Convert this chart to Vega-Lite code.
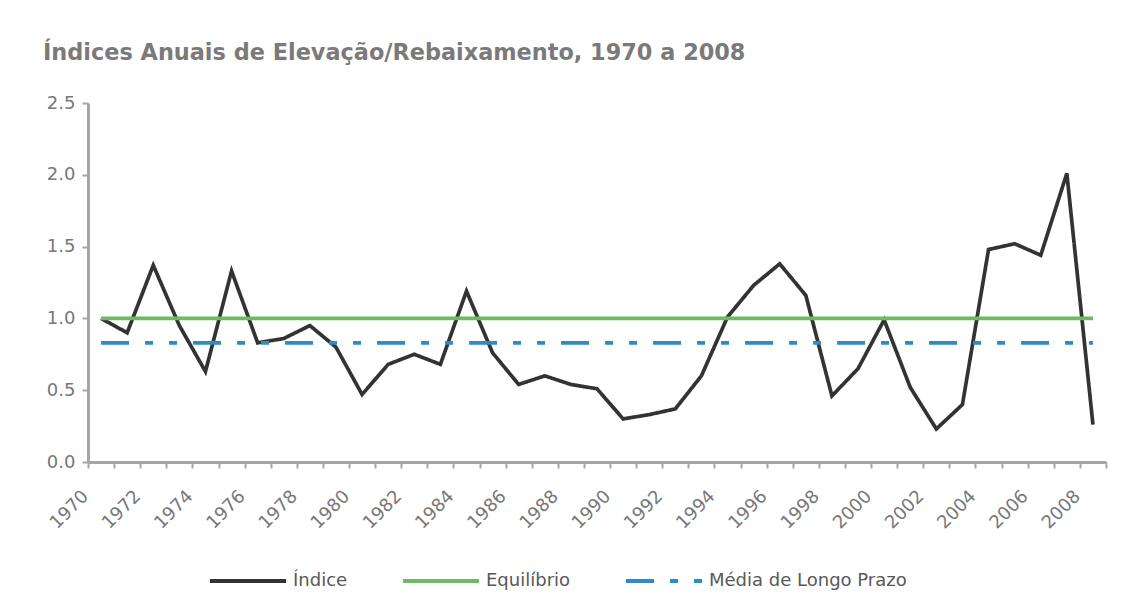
{
  "$schema": "https://vega.github.io/schema/vega-lite/v6.json",
  "autosize": {"type": "none"},
  "width": 1018,
  "height": 359,
  "padding": {"left": 88, "top": 103, "right": 19, "bottom": 148},
  "background": "white",
  "title": {
    "text": "Índices Anuais de Elevação/Rebaixamento, 1970 a 2008",
    "anchor": "start",
    "frame": "group",
    "dx": -45,
    "offset": 30,
    "font": "DejaVu Sans",
    "fontSize": 22.4,
    "fontWeight": "bold",
    "color": "#7A7A7A"
  },
  "config": {
    "view": {"stroke": null},
    "axis": {
      "labelFont": "DejaVu Sans",
      "labelFontSize": 18,
      "labelColor": "#787878",
      "domainColor": "#A6A6A6",
      "domainWidth": 3,
      "tickColor": "#A6A6A6",
      "tickWidth": 2,
      "tickSize": 6,
      "grid": false,
      "title": null
    }
  },
  "data": {
    "values": [
      {"ano": 1970, "serie": "Índice", "valor": 1.00},
      {"ano": 1971, "serie": "Índice", "valor": 0.90},
      {"ano": 1972, "serie": "Índice", "valor": 1.37},
      {"ano": 1973, "serie": "Índice", "valor": 0.95},
      {"ano": 1974, "serie": "Índice", "valor": 0.63},
      {"ano": 1975, "serie": "Índice", "valor": 1.33},
      {"ano": 1976, "serie": "Índice", "valor": 0.83},
      {"ano": 1977, "serie": "Índice", "valor": 0.86},
      {"ano": 1978, "serie": "Índice", "valor": 0.95},
      {"ano": 1979, "serie": "Índice", "valor": 0.80},
      {"ano": 1980, "serie": "Índice", "valor": 0.47},
      {"ano": 1981, "serie": "Índice", "valor": 0.68},
      {"ano": 1982, "serie": "Índice", "valor": 0.75},
      {"ano": 1983, "serie": "Índice", "valor": 0.68},
      {"ano": 1984, "serie": "Índice", "valor": 1.19},
      {"ano": 1985, "serie": "Índice", "valor": 0.76},
      {"ano": 1986, "serie": "Índice", "valor": 0.54},
      {"ano": 1987, "serie": "Índice", "valor": 0.60},
      {"ano": 1988, "serie": "Índice", "valor": 0.54},
      {"ano": 1989, "serie": "Índice", "valor": 0.51},
      {"ano": 1990, "serie": "Índice", "valor": 0.30},
      {"ano": 1991, "serie": "Índice", "valor": 0.33},
      {"ano": 1992, "serie": "Índice", "valor": 0.37},
      {"ano": 1993, "serie": "Índice", "valor": 0.60},
      {"ano": 1994, "serie": "Índice", "valor": 1.01},
      {"ano": 1995, "serie": "Índice", "valor": 1.23},
      {"ano": 1996, "serie": "Índice", "valor": 1.38},
      {"ano": 1997, "serie": "Índice", "valor": 1.16},
      {"ano": 1998, "serie": "Índice", "valor": 0.46},
      {"ano": 1999, "serie": "Índice", "valor": 0.65},
      {"ano": 2000, "serie": "Índice", "valor": 0.99},
      {"ano": 2001, "serie": "Índice", "valor": 0.52},
      {"ano": 2002, "serie": "Índice", "valor": 0.23},
      {"ano": 2003, "serie": "Índice", "valor": 0.40},
      {"ano": 2004, "serie": "Índice", "valor": 1.48},
      {"ano": 2005, "serie": "Índice", "valor": 1.52},
      {"ano": 2006, "serie": "Índice", "valor": 1.44},
      {"ano": 2007, "serie": "Índice", "valor": 2.01},
      {"ano": 2008, "serie": "Índice", "valor": 0.26},
      {"ano": 1970, "serie": "Equilíbrio", "valor": 1.0},
      {"ano": 2008, "serie": "Equilíbrio", "valor": 1.0},
      {"ano": 1970, "serie": "Média de Longo Prazo", "valor": 0.83},
      {"ano": 2008, "serie": "Média de Longo Prazo", "valor": 0.83}
    ]
  },
  "mark": {"type": "line", "strokeWidth": 3.7},
  "encoding": {
    "x": {
      "field": "ano",
      "type": "ordinal",
      "bandPosition": 0.5,
      "scale": {"type": "band", "paddingInner": 0, "paddingOuter": 0},
      "axis": {
        "labelAngle": -45,
        "labelOffset": -22,
        "labelPadding": 19,
        "tickBand": "extent",
        "labelExpr": "datum.value % 2 == 0 ? datum.label : ''"
      }
    },
    "y": {
      "field": "valor",
      "type": "quantitative",
      "scale": {"domain": [0, 2.5], "nice": false},
      "axis": {"values": [0, 0.5, 1, 1.5, 2, 2.5], "format": ".1f", "labelPadding": 7}
    },
    "color": {
      "field": "serie",
      "type": "nominal",
      "scale": {
        "domain": ["Índice", "Equilíbrio", "Média de Longo Prazo"],
        "range": ["#333333", "#70B865", "#2E8BC8"]
      },
      "legend": {
        "title": null,
        "orient": "none",
        "direction": "horizontal",
        "legendX": 120,
        "legendY": 438,
        "padding": 0,
        "symbolType": "stroke",
        "symbolSize": 5776,
        "symbolStrokeWidth": 4,
        "labelFont": "DejaVu Sans",
        "labelFontSize": 18,
        "labelColor": "#595959",
        "labelOffset": 5,
        "labelLimit": 0,
        "columnPadding": 47
      }
    },
    "strokeDash": {
      "field": "serie",
      "type": "nominal",
      "scale": {
        "domain": ["Índice", "Equilíbrio", "Média de Longo Prazo"],
        "range": [[1, 0], [1, 0], [28, 16, 8, 16, 8, 16]]
      },
      "legend": {
        "title": null,
        "orient": "none",
        "direction": "horizontal",
        "legendX": 120,
        "legendY": 438,
        "padding": 0,
        "symbolType": "stroke",
        "symbolSize": 5776,
        "symbolStrokeWidth": 4,
        "labelFont": "DejaVu Sans",
        "labelFontSize": 18,
        "labelColor": "#595959",
        "labelOffset": 5,
        "labelLimit": 0,
        "columnPadding": 47
      }
    }
  }
}
